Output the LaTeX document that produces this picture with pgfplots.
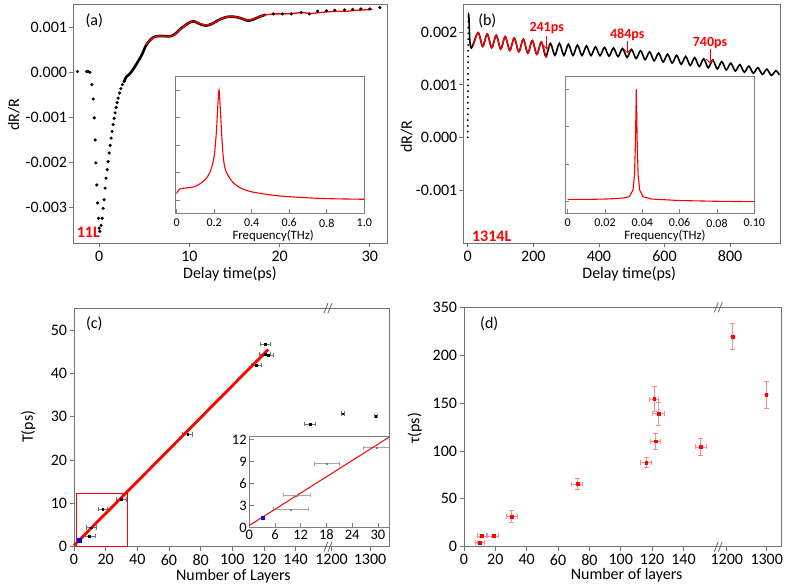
\documentclass[border=0pt]{standalone}
\usepackage{pgfplots}
\pgfplotsset{compat=1.18}
\usepackage{pgfplotstable}
\usepackage{fontspec}
\setmainfont{Carlito}
\usetikzlibrary{arrows.meta}

\newcommand{\fsz}[1]{\fontsize{#1}{#1}\selectfont}

\pgfplotsset{
  /pgf/number format/assume math mode=true,
  panel/.style={scale only axis, anchor=south west,
    axis line style={draw=black!55, line width=0.8pt},
    major tick style={draw=black!55, line width=0.8pt},
    tick align=outside, tick pos=left,
    tick label style={font=\fsz{16}},
    label style={font=\fsz{16}},
  },
  inset/.style={scale only axis, anchor=south west,
    axis background/.style={fill=white},
    axis line style={draw=black!50, line width=0.7pt},
    major tick style={draw=black!50, line width=0.6pt},
    tick align=inside, tick pos=left,
    tick label style={font=\fsz{12}},
    label style={font=\fsz{12.8}},
  },
}

% panel (c) data: mapped x (axis break: 1200 -> 162.7, 1300 -> 187), T(ps), x error
\pgfplotstableread{
x y ex
9.7 2.5 4.0
11.1 4.4 3.2
18.1 8.7 3.0
29.7 10.9 3.2
71.8 25.9 3.2
115.0 41.9 3.2
120.6 44.4 3.5
122.7 44.2 3.4
121.0 46.7 3.2
149.0 28.3 3.2
169.7 30.7 1.0
190.6 30.1 1.0
}\Tdata

% panel (d) data: mapped x (1200 -> 167.6, 1300 -> 193.1), tau(ps), x error, y error
\pgfplotstableread{
x y ex ey
10.2 4.5 2.9 1.5
11.3 11.2 3.0 1.5
18.7 11.2 3.5 1.5
30.4 31.5 3.5 6.0
72.3 65.4 3.5 5.6
116.2 87.8 3.5 5.2
121.3 154.2 3.0 13.0
122.1 110.1 3.4 8.4
124.0 138.8 3.9 11.7
151.0 104.2 3.5 9.0
171.3 219.6 0 13.5
192.8 158.7 0 14.0
}\Tau

\begin{document}
\begin{tikzpicture}
\path[use as bounding box] (0pt,0pt) rectangle (785pt,587pt);

% ---------------- (a) ----------------
\begin{axis}[panel, at={(73pt,344pt)}, width=314pt, height=239pt,
  xmin=-2.9, xmax=31.9, ymin=-0.00379, ymax=0.00152,
  xtick={0,10,20,30},
  ytick={-0.003,-0.002,-0.001,0,0.001},
  yticklabels={-0.003,-0.002,-0.001,0.000,0.001},
  scaled y ticks=false,
  yticklabel style={inner sep=1.5pt},
  xlabel={Delay time(ps)}, ylabel={dR/R},
  xlabel style={at={(axis description cs:0.5,-0.13)}, anchor=center},
  ylabel style={at={(axis description cs:-0.188,0.536)}, anchor=center},
]
\addplot[only marks, mark=*, mark size=1.4pt, black] coordinates {
(-2.4,0.00002) (-1.4,0.00002) (-1.22,0.00002) (-1.03,0.0) (-0.81,-0.00027)
(-0.66,-0.00059) (-0.55,-0.00101) (-0.44,-0.0015) (-0.37,-0.00201) (-0.26,-0.0025)
(-0.18,-0.0029) (-0.07,-0.00324) (0,-0.00346) (0.07,-0.00353)
(0.22,-0.0034) (0.33,-0.00324) (0.44,-0.00302) (0.55,-0.00283) (0.66,-0.00257)
(0.77,-0.00235) (0.89,-0.00216) (1.0,-0.00198) (1.11,-0.00179) (1.22,-0.00162)
(1.33,-0.00146) (1.44,-0.00131) (1.55,-0.00116) (1.66,-0.00102) (1.77,-0.0009)
(1.88,-0.00078) (1.99,-0.00067) (2.1,-0.00057) (2.25,-0.00046) (2.4,-0.00036)
(2.58,-0.00027) (2.77,-0.0002)
(19.3,0.0013) (20.3,0.0013) (21.3,0.0013) (22.4,0.00133) (23.3,0.0013)
(24.2,0.00136) (25.2,0.00137) (26.1,0.00138) (27.2,0.00139) (28.1,0.0014)
(29.0,0.00141) (30.0,0.00141) (31.1,0.00144)
};
\addplot[black, line width=2.6pt, line cap=round, smooth] coordinates {
(2.77,-0.0002) (3.0,-0.0001) (3.4,-0.00003) (3.8,0.00008) (4.3,0.00024)
(4.8,0.00042) (5.2,0.0006) (5.8,0.00075) (6.3,0.0008) (7.0,0.00081)
(7.8,0.0008) (8.4,0.00085) (8.9,0.00095) (9.5,0.00104) (10.1,0.00112)
(10.6,0.00113) (11.1,0.00108) (11.8,0.00104) (12.5,0.00108) (13.3,0.00117)
(14.1,0.00123) (14.8,0.00124) (15.6,0.00121) (16.5,0.00115) (17.1,0.00118)
(17.8,0.00124) (18.4,0.00128)
};
\addplot[red, line width=1.3pt, smooth] coordinates {
(5.2,0.00062) (5.8,0.00074) (6.3,0.0008) (7.0,0.00081) (7.8,0.0008)
(8.4,0.00084) (8.9,0.00094) (9.5,0.00104) (10.1,0.00112) (10.6,0.00113)
(11.1,0.00109) (11.8,0.00105) (12.5,0.00108) (13.3,0.00117) (14.1,0.00123)
(14.8,0.00124) (15.6,0.00121) (16.5,0.00116) (17.1,0.00119) (17.8,0.00124)
(18.5,0.00128) (19.5,0.0013) (20.5,0.0013) (21.5,0.00131) (22.5,0.00133)
(23.5,0.00131) (24.5,0.00133) (25.5,0.00135) (26.5,0.00136) (27.5,0.00136)
(28.5,0.00138) (29.5,0.00139) (30.3,0.0014)
};
\end{axis}

% inset (a)
\begin{axis}[inset, at={(175.7pt,373.7pt)}, width=188.6pt, height=137.3pt,
  xmin=-0.005, xmax=1.0, ymin=-0.48, ymax=4.51,
  xtick={0,0.2,0.4,0.6,0.8,1.0}, xticklabels={0,0.2,0.4,0.6,0.8,1.0},
  ytick={0,1,2,3,4}, yticklabels={},
  xticklabel style={yshift=-2pt},
  xlabel={Frequency(THz)},
  xlabel style={at={(axis description cs:0.517,-0.163)}, anchor=center},
]
\addplot[red, line width=1.1pt, smooth] coordinates {
(0,0.24) (0.015,0.4) (0.05,0.44) (0.1,0.5) (0.15,0.73) (0.18,1.05) (0.2,1.6)
(0.212,2.5) (0.22,3.5) (0.226,4.0) (0.232,3.4) (0.24,2.4) (0.248,1.6)
(0.26,1.1) (0.29,0.73) (0.33,0.48) (0.4,0.3) (0.55,0.15) (0.77,0.06) (1.0,0.03)
};
\end{axis}

% ---------------- (b) ----------------
\begin{axis}[panel, at={(463.3pt,344pt)}, width=316.7pt, height=239pt,
  xmin=-13.4, xmax=952, ymin=-0.00201, ymax=0.00254,
  xtick={0,200,400,600,800},
  ytick={-0.001,0,0.001,0.002},
  yticklabels={-0.001,0.000,0.001,0.002},
  scaled y ticks=false,
  yticklabel style={inner sep=1.5pt},
  xlabel={Delay time(ps)}, ylabel={dR/R},
  xlabel style={at={(axis description cs:0.524,-0.13)}, anchor=center},
  ylabel style={at={(axis description cs:-0.179,0.445)}, anchor=center},
]
\addplot[only marks, mark=*, mark size=0.7pt, black] coordinates {
(0,0.0) (0.1,0.00011) (0.2,0.00022) (0.3,0.00033) (0.4,0.00044) (0.5,0.00055)
(0.6,0.00066) (0.7,0.00077) (0.8,0.00088) (0.9,0.00099) (1.0,0.0011)
(1.1,0.00121) (1.2,0.00132) (1.3,0.00143) (1.4,0.00154) (1.5,0.00165)
(1.6,0.00176) (1.7,0.00187) (1.8,0.00198) (1.9,0.00209) (2.0,0.0022)
};
\addplot[black, line width=1.6pt, smooth] coordinates {
(2,0.00228) (3.5,0.00233) (5,0.00205) (7,0.0018) (10,0.00171) (14,0.00173)
(32,0.001994) (45.75,0.001732) (59.5,0.001969) (73.25,0.001707) (87,0.001944)
(100.75,0.001682) (114.5,0.001919) (128.25,0.001656) (142,0.001894) (155.75,0.001631)
(169.5,0.001869) (183.25,0.001606) (197,0.001844) (210.75,0.001581) (224.5,0.001819)
(238.25,0.00154) (252,0.00179) (265.75,0.001564) (279.5,0.001791) (293.25,0.001562)
(307,0.001774) (320.75,0.001561) (334.5,0.001758) (348.25,0.001559) (362,0.001741)
(375.75,0.001558) (389.5,0.001724) (403.25,0.001556) (417,0.001712) (430.75,0.001548)
(444.5,0.001703) (458.25,0.001539) (472,0.001693) (485.75,0.001525) (499.5,0.001674)
(513.25,0.001503) (527,0.001652) (540.75,0.001481) (554.5,0.00163) (568.25,0.001459)
(582,0.001607) (595.75,0.001436) (609.5,0.001585) (623.25,0.001414) (637,0.001563)
(650.75,0.001392) (664.5,0.001541) (678.25,0.00137) (692,0.001519) (705.75,0.001348)
(719.5,0.001497) (733.25,0.001325) (747,0.001473) (760.75,0.001304) (774.5,0.001444)
(788.25,0.001284) (802,0.001415) (815.75,0.001263) (829.5,0.001386) (843.25,0.001242)
(857,0.001357) (870.75,0.001222) (884.5,0.001328) (898.25,0.001201) (912,0.001299)
(925.75,0.00118) (939.5,0.00127) (950,0.00119)
};
\addplot[red, line width=1.3pt, smooth] coordinates {
(17,0.00174) (32,0.001994) (45.75,0.001732) (59.5,0.001969) (73.25,0.001707) (87,0.001944)
(100.75,0.001682) (114.5,0.001919) (128.25,0.001656) (142,0.001894) (155.75,0.001631)
(169.5,0.001869) (183.25,0.001606) (197,0.001844) (210.75,0.001581) (224.5,0.001819)
(238.25,0.00154) (241,0.00155)
};
\end{axis}

% inset (b)
\begin{axis}[inset, at={(565pt,373.7pt)}, width=189.3pt, height=137.3pt,
  xmin=-0.0014, xmax=0.1, ymin=-0.31, ymax=3.35,
  xtick={0,0.02,0.04,0.06,0.08,0.1}, xticklabels={0,0.02,0.04,0.06,0.08,0.10},
  ytick={0,1,2,3}, yticklabels={},
  xticklabel style={yshift=-2pt},
  xlabel={Frequency(THz)},
  xlabel style={at={(axis description cs:0.528,-0.163)}, anchor=center},
]
\addplot[red, line width=1.1pt] coordinates {
(0,0.06) (0.01,0.06) (0.02,0.07) (0.025,0.08) (0.03,0.1) (0.033,0.13) (0.035,0.31)
(0.0358,0.7) (0.0363,1.5) (0.0368,3.0) (0.0373,1.5) (0.0378,0.7) (0.0386,0.31)
(0.0404,0.13) (0.045,0.07) (0.06,0.03) (0.08,0.01) (0.1,0.0)
};
\end{axis}

% ---------------- (c) ----------------
\begin{axis}[panel, at={(74pt,40.3pt)}, width=315pt, height=238.4pt,
  xmin=0, xmax=199, ymin=0, ymax=55, clip=false,
  xtick={0,20,40,60,80,100,120,140,162.7,187},
  xticklabels={0,20,40,60,80,100,120,140,1200,1300},
  ytick={0,10,20,30,40,50},
  yticklabel style={inner sep=2.5pt},
  xlabel={Number of Layers}, ylabel={T(ps)},
  xlabel style={at={(axis description cs:0.506,-0.122)}, anchor=center},
  ylabel style={at={(axis description cs:-0.145,0.503)}, anchor=center},
]
\draw[red, line width=1pt] (axis cs:1.3,0) rectangle (axis cs:33.7,12.3);
\addplot[only marks, mark=square*, mark size=0.9pt, black,
  error bars/.cd, x dir=both, x explicit,
  error bar style={black!55, line width=0.6pt},
  error mark options={rotate=90, black!55, mark size=2.2pt, line width=0.6pt}]
  table[x=x, y=y, x error=ex] {\Tdata};
\addplot[red, line width=2.8pt] coordinates {(0,0.3) (122.7,45.5)};
\addplot[only marks, mark=square*, mark size=2pt, blue] coordinates {(3.0,1.4)};
\draw[black!60, line width=0.8pt] ([xshift=-4pt,yshift=-5pt]axis cs:160.4,0) -- ++(4pt,10pt);
\draw[black!60, line width=0.8pt] ([xshift=0pt,yshift=-5pt]axis cs:160.4,0) -- ++(4pt,10pt);
\draw[black!60, line width=0.8pt] ([xshift=-4pt,yshift=-5pt]axis cs:160.4,55) -- ++(4pt,10pt);
\draw[black!60, line width=0.8pt] ([xshift=0pt,yshift=-5pt]axis cs:160.4,55) -- ++(4pt,10pt);
\end{axis}

% inset (c)
\begin{axis}[inset, at={(249.3pt,59.3pt)}, width=139.7pt, height=91pt,
  xmin=0, xmax=32.6, ymin=0, ymax=12.37,
  xtick={0,6,12,18,24,30}, ytick={0,3,6,9,12},
  tick label style={font=\fsz{14.5}},
  xticklabel style={inner sep=2pt},
  yticklabel style={inner sep=2.5pt},
]
\addplot[only marks, mark=square*, mark size=0.6pt, black!50,
  error bars/.cd, x dir=both, x explicit,
  error bar style={black!35, line width=0.6pt},
  error mark options={rotate=90, black!35, mark size=2pt, line width=0.6pt}]
  table[x=x, y=y, x error=ex] {\Tdata};
\addplot[red, line width=1pt] coordinates {(0,0.3) (32.6,12.3)};
\addplot[only marks, mark=square*, mark size=1.5pt, blue] coordinates {(3.2,1.4)};
\end{axis}

% ---------------- (d) ----------------
\begin{axis}[panel, at={(464pt,40.3pt)}, width=317pt, height=239.4pt,
  xmin=0, xmax=202.2, ymin=0, ymax=250, clip=false,
  xtick={0,20,40,60,80,100,120,140,167.6,193.1},
  xticklabels={0,20,40,60,80,100,120,140,1200,1300},
  ytick={0,50,100,150,200,250},
  yticklabels={0,50,100,150,200,350},
  yticklabel style={inner sep=2.5pt},
  xlabel={Number of layers}, ylabel={τ(ps)},
  xlabel style={at={(axis description cs:0.513,-0.121)}, anchor=center},
  ylabel style={at={(axis description cs:-0.155,0.495)}, anchor=center},
]
\addplot[only marks, mark=square*, mark size=1.4pt, red,
  error bars/.cd, x dir=both, x explicit, y dir=both, y explicit,
  error bar style={red!45, line width=0.8pt},
  error mark options={rotate=90, red!45, mark size=2.5pt, line width=0.8pt}]
  table[x=x, y=y, x error=ex, y error=ey] {\Tau};
\draw[black!60, line width=0.8pt] ([xshift=-4pt,yshift=-5pt]axis cs:162.2,0) -- ++(4pt,10pt);
\draw[black!60, line width=0.8pt] ([xshift=0pt,yshift=-5pt]axis cs:162.2,0) -- ++(4pt,10pt);
\draw[black!60, line width=0.8pt] ([xshift=-4pt,yshift=-5pt]axis cs:162.2,250) -- ++(4pt,10pt);
\draw[black!60, line width=0.8pt] ([xshift=0pt,yshift=-5pt]axis cs:162.2,250) -- ++(4pt,10pt);
\end{axis}

% ---------------- annotations ----------------
\node[font=\fsz{16}] at (94.3pt,566.3pt) {(a)};
\node[font=\fsz{16}] at (487.3pt,566.3pt) {(b)};
\node[font=\fsz{16}] at (94.3pt,263.7pt) {(c)};
\node[font=\fsz{16}] at (489.3pt,263pt) {(d)};
\node[red, font=\bfseries\fsz{16}] at (88.3pt,354.7pt) {11L};
\node[red, font=\bfseries\fsz{16}] at (491.7pt,350.3pt) {1314L};
\node[red, font=\bfseries\fsz{14}] at (546.7pt,558.7pt) {241ps};
\node[red, font=\bfseries\fsz{14}] at (627.3pt,552.7pt) {484ps};
\node[red, font=\bfseries\fsz{14}] at (710pt,544.3pt) {740ps};
\draw[red, line width=0.8pt, -{Straight Barb[length=3.5pt,width=7pt]}] (546.7pt,551pt) -- (546.7pt,537.7pt);
\draw[red, line width=0.8pt, -{Straight Barb[length=3.5pt,width=7pt]}] (627.3pt,546pt) -- (627.3pt,533.7pt);
\draw[red, line width=0.8pt, -{Straight Barb[length=3.5pt,width=7pt]}] (710pt,538pt) -- (710pt,523.7pt);
\end{tikzpicture}
\end{document}
